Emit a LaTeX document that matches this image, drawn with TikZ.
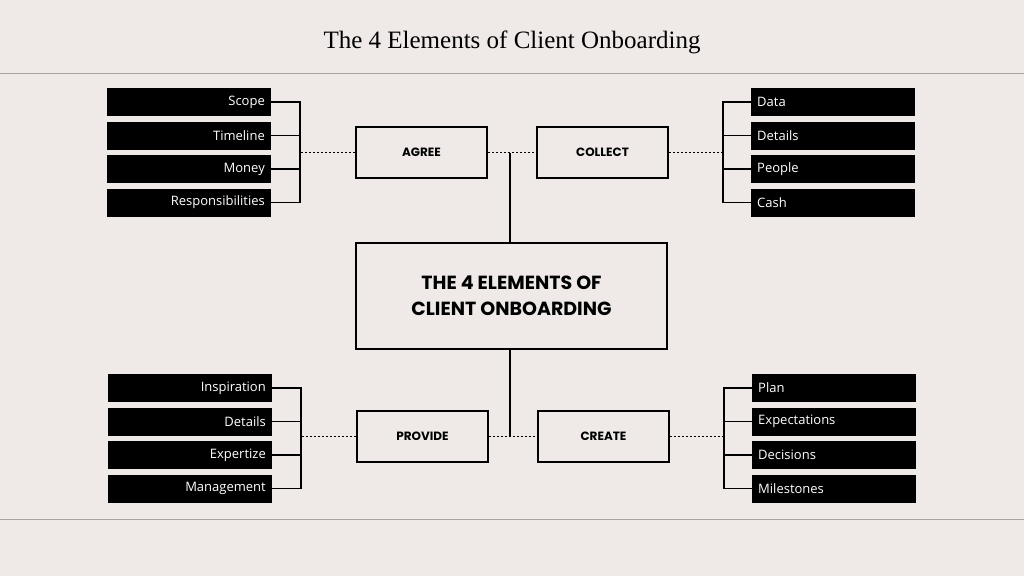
\documentclass[tikz,border=0pt]{standalone}
\usepackage{fontspec}
\setmainfont{Liberation Serif}
\newfontfamily\labelfont{Open Sans}
\newfontfamily\headfont{Poppins}
\definecolor{paper}{HTML}{EFEAE8}
\definecolor{rule}{HTML}{A8A4A2}
\tikzset{
  item/.style={fill=black, text=white, minimum width=164pt, minimum height=28pt, inner sep=0pt, font=\labelfont\fontsize{13}{15}\selectfont},
  stage/.style={draw=black, line width=1.6pt, fill=paper, minimum width=131pt, minimum height=51pt, font=\headfont\bfseries\fontsize{12}{14}\selectfont},
  link/.style={line width=1.1pt},
  dots/.style={line width=1.6pt, dash pattern=on 2pt off 2pt}
}
\begin{document}
\begin{tikzpicture}[x=1pt,y=-1pt]
\fill[paper] (0,0) rectangle (1024,576);
\useasboundingbox (0,0) rectangle (1024,576);
%title and rules
\node (title) at (512,42) {\fontsize{25}{28}\selectfont The 4 Elements of Client Onboarding};
\draw[rule, line width=0.8pt] (0,73) -- (1024,73);
\draw[rule, line width=0.8pt] (0,519) -- (1024,519);
%centre box
\node[stage, minimum width=311pt, minimum height=106pt, font=\headfont\bfseries\fontsize{19}{26}\selectfont, align=center] (core) at (511.5,296) {THE 4 ELEMENTS OF\\CLIENT ONBOARDING};
%stages
\node[stage] (agree) at (421.5,152.5) {AGREE};
\node[stage] (collect) at (602.5,152.5) {COLLECT};
\node[stage] (provide) at (422.5,436.5) {PROVIDE};
\node[stage] (create) at (603.5,436.5) {CREATE};
\coordinate (top) at (510,152.5);
\coordinate (bot) at (510,436.5);
\draw[link] (top) -- (core.north -| top);
\draw[link] (bot) -- (core.south -| bot);
\draw[dots] (agree) -- (collect);
\draw[dots] (provide) -- (create);
%left and right lists
\foreach \lbl [count=\i] in {Scope,Timeline,Money,Responsibilities}
  \node[item, anchor=east, text width=152pt, align=right] (a\i) at (271,68.5+33.5*\i) {\lbl};
\foreach \lbl [count=\i] in {Data,Details,People,Cash}
  \node[item, anchor=west, text width=152pt, align=left] (c\i) at (751,68.5+33.5*\i) {\lbl};
\foreach \lbl [count=\i] in {Inspiration,Details,Expertize,Management}
  \node[item, anchor=east, text width=152pt, align=right] (p\i) at (272,354.5+33.5*\i) {\lbl};
\foreach \lbl [count=\i] in {Plan,Expectations,Decisions,Milestones}
  \node[item, anchor=west, text width=152pt, align=left] (r\i) at (752,354.5+33.5*\i) {\lbl};
%brackets
\draw[link] (a1.east) -| (300,0 |- a4.east) -- (a4.east);
\draw[link] (a2.east) -- (a2.east -| 300,0);
\draw[link] (a3.east) -- (a3.east -| 300,0);
\draw[link] (c1.west) -| (723,0 |- c4.west) -- (c4.west);
\draw[link] (c2.west) -- (c2.west -| 723,0);
\draw[link] (c3.west) -- (c3.west -| 723,0);
\draw[link] (p1.east) -| (301,0 |- p4.east) -- (p4.east);
\draw[link] (p2.east) -- (p2.east -| 301,0);
\draw[link] (p3.east) -- (p3.east -| 301,0);
\draw[link] (r1.west) -| (724,0 |- r4.west) -- (r4.west);
\draw[link] (r2.west) -- (r2.west -| 724,0);
\draw[link] (r3.west) -- (r3.west -| 724,0);
\draw[dots] (agree.west) -- (agree.west -| 300,0);
\draw[dots] (collect.east) -- (collect.east -| 723,0);
\draw[dots] (provide.west) -- (provide.west -| 301,0);
\draw[dots] (create.east) -- (create.east -| 724,0);
\end{tikzpicture}
\end{document}
